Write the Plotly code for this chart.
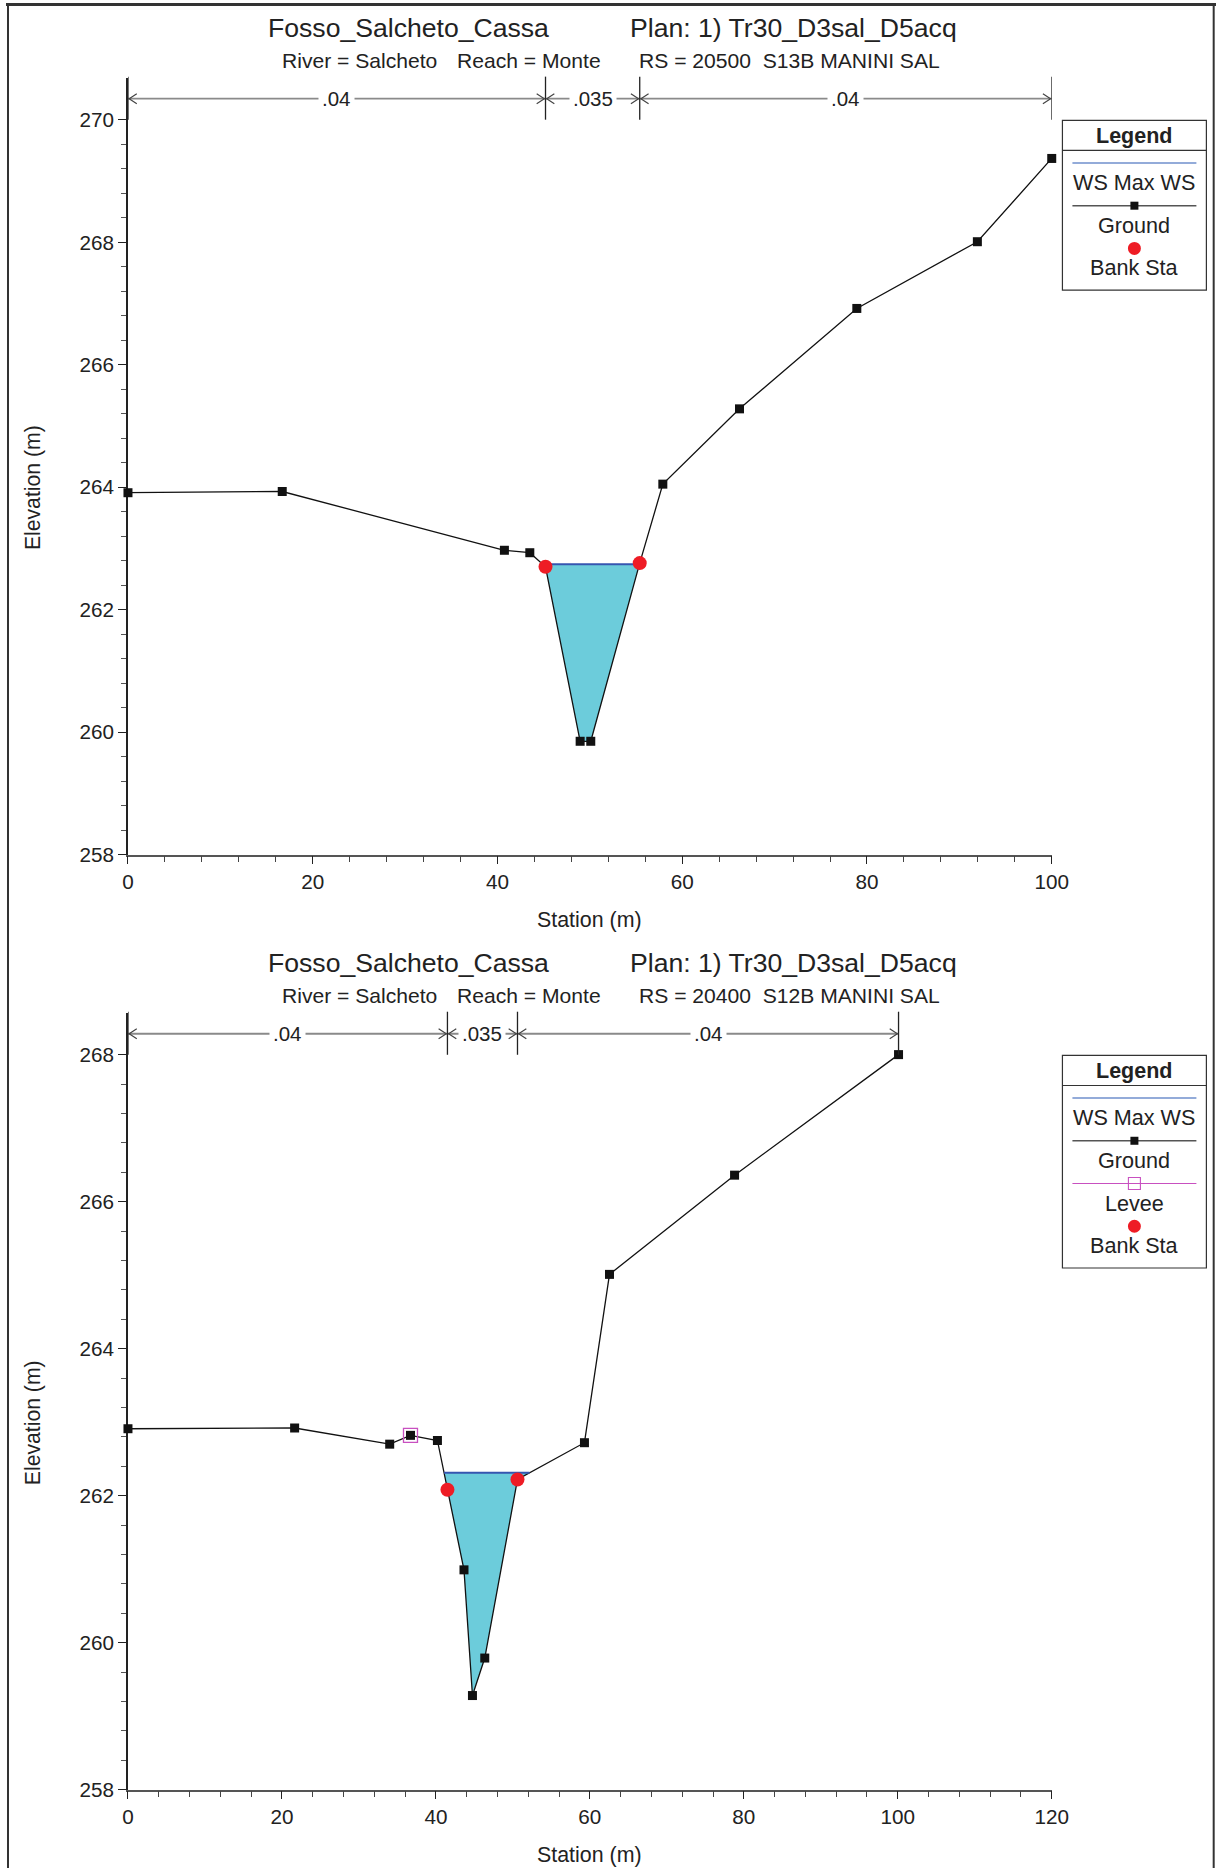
import numpy as np
import plotly.graph_objects as go

# Target positions below are given in reference-picture pixels (1216x1868);
# the page photo maps page px -> picture px approximately as  x' = AX + BX x,  y' = AY + BY y
AX, BX = 5.0, 0.9816
AY, BY = 0.45, 0.993
FW, FH = 1233, 1880
FONT = "Liberation Sans, Arial, Helvetica, sans-serif"

# ---------------- data ----------------
title_project = "Fosso_Salcheto_Cassa"
title_plan_label = "Plan:"
title_plan = "1) Tr30_D3sal_D5acq"
sub_river = "River = Salcheto"
sub_reach = "Reach = Monte"

# Section 1 : RS 20500
top_rs = "RS = 20500  S13B MANINI SAL"
top_station = [0.0, 16.7, 40.75, 43.5, 45.2, 48.95, 50.1, 55.4, 57.9, 66.2, 78.9, 91.95, 100.0]
top_elev = [263.91, 263.93, 262.97, 262.93, 262.70, 259.85, 259.85, 262.76, 264.05, 265.28, 266.92, 268.01, 269.37]
top_bank_station = [45.2, 55.4]
top_bank_elev = [262.70, 262.76]
top_levee_station = []
top_levee_elev = []
top_ws = 262.74
top_n_values = [".04", ".035", ".04"]

# Section 2 : RS 20400
bot_rs = "RS = 20400  S12B MANINI SAL"
bot_station = [0.0, 21.65, 34.0, 36.7, 40.2, 41.5, 43.65, 44.75, 46.35, 50.6, 59.3, 62.55, 78.8, 100.1]
bot_elev = [262.91, 262.92, 262.70, 262.82, 262.75, 262.08, 260.99, 259.28, 259.79, 262.22, 262.72, 265.01, 266.36, 268.0]
bot_bank_station = [41.5, 50.6]
bot_bank_elev = [262.08, 262.22]
bot_levee_station = [36.7]
bot_levee_elev = [262.82]
bot_ws = 262.31
bot_n_values = [".04", ".035", ".04"]

# ---------------- styles ----------------
WATER_FILL = "rgb(108,204,219)"
WS_COLOR = "#3656b0"
WS_LEG_COLOR = "#6f8fcc"
BANK_COLOR = "#ee1c25"
LEVEE_COLOR = "#c850c0"
GROUND_COLOR = "#111111"


def fx(t):
    return (t - AX) / BX


def fy(t):
    return (t - AY) / BY


def px(t):
    return fx(t) / FW


def py(t):
    return 1 - fy(t) / FH


def water_polygon(st, el, ws):
    st = np.asarray(st, float)
    el = np.asarray(el, float)
    i = int(np.argmin(el))
    l = i
    while l > 0 and el[l - 1] < ws:
        l -= 1
    x0 = st[l - 1] + (ws - el[l - 1]) * (st[l] - st[l - 1]) / (el[l] - el[l - 1])
    r = i
    while r < len(el) - 1 and el[r + 1] < ws:
        r += 1
    x1 = st[r] + (ws - el[r]) * (st[r + 1] - st[r]) / (el[r + 1] - el[r])
    xs = [x0] + list(st[l:r + 1]) + [x1, x0]
    ys = [ws] + list(el[l:r + 1]) + [ws, ws]
    return xs, ys, x0, x1


X_LEFT, X_RIGHT = 127, 1051
panels = [
    dict(key="", off=0, rs=top_rs, station=top_station, elev=top_elev,
         bank_st=top_bank_station, bank_el=top_bank_elev,
         levee_st=top_levee_station, levee_el=top_levee_elev,
         ws=top_ws, n_vals=top_n_values, xmax=100, ymax=270.69, ymaj=270),
    dict(key="2", off=934, rs=bot_rs, station=bot_station, elev=bot_elev,
         bank_st=bot_bank_station, bank_el=bot_bank_elev,
         levee_st=bot_levee_station, levee_el=bot_levee_elev,
         ws=bot_ws, n_vals=bot_n_values, xmax=120, ymax=268.57, ymaj=268),
]

fig = go.Figure()
shapes = []
annotations = []
layout_axes = {}

for p in panels:
    k = p["key"]
    off = p["off"]
    xr, yr = "x" + k, "y" + k

    wx, wy, wl, wr = water_polygon(p["station"], p["elev"], p["ws"])
    fig.add_trace(go.Scatter(x=wx, y=wy, xaxis=xr, yaxis=yr, mode="lines",
                             fill="toself", fillcolor=WATER_FILL,
                             line=dict(width=0), hoverinfo="skip", showlegend=False))
    fig.add_trace(go.Scatter(x=p["station"], y=p["elev"], xaxis=xr, yaxis=yr,
                             mode="lines+markers", name="Ground", cliponaxis=False,
                             line=dict(color=GROUND_COLOR, width=1.3),
                             marker=dict(symbol="square", size=9, color=GROUND_COLOR),
                             showlegend=False))
    fig.add_trace(go.Scatter(x=[wl, wr], y=[p["ws"], p["ws"]], xaxis=xr, yaxis=yr,
                             mode="lines", name="WS Max WS",
                             line=dict(color=WS_COLOR, width=2), showlegend=False))
    if p["levee_st"]:
        fig.add_trace(go.Scatter(x=p["levee_st"], y=p["levee_el"], xaxis=xr, yaxis=yr,
                                 mode="markers", name="Levee",
                                 marker=dict(symbol="square-open", size=14,
                                             color=LEVEE_COLOR, line=dict(width=1.3)),
                                 showlegend=False))
    fig.add_trace(go.Scatter(x=p["bank_st"], y=p["bank_el"], xaxis=xr, yaxis=yr,
                             mode="markers", name="Bank Sta", cliponaxis=False,
                             marker=dict(symbol="circle", size=14, color=BANK_COLOR),
                             showlegend=False))

    # axes
    minor_y = [round(v, 2) for v in np.arange(258, p["ymaj"] + 1e-6, 0.4)
               if abs(round(v, 2) / 2 - round(round(v, 2) / 2)) > 1e-6]
    layout_axes["xaxis" + k] = dict(
        domain=[px(X_LEFT), px(X_RIGHT)], range=[0, p["xmax"]], anchor=yr,
        tickmode="linear", tick0=0, dtick=20, ticks="outside", ticklen=8,
        tickwidth=1.2, tickcolor="#222", showline=True, linecolor="#555",
        linewidth=1.5, showgrid=False, zeroline=False, layer="below traces",
        tickfont=dict(size=20.7, color="#222", family=FONT),
        minor=dict(tickmode="linear", tick0=0, dtick=4, ticks="outside",
                   ticklen=6, tickcolor="#444", tickwidth=1, showgrid=False))
    layout_axes["yaxis" + k] = dict(
        domain=[py(854 + off), py(78 + off)], range=[258, p["ymax"]], anchor=xr,
        tickmode="array", tickvals=list(np.arange(258, p["ymaj"] + 0.01, 2)),
        ticks="outside", ticklen=8, tickwidth=1.2, tickcolor="#222",
        showline=True, linecolor="#222", linewidth=1.5, showgrid=False,
        zeroline=False, layer="below traces",
        tickfont=dict(size=20.7, color="#222", family=FONT),
        minor=dict(tickmode="array", tickvals=minor_y, ticks="outside",
                   ticklen=5, tickcolor="#555", tickwidth=1, showgrid=False))

    # titles
    for txt, xl, yc, sz in [(title_project, 265, 28.5, 26.6), (title_plan_label, 627, 28.5, 26.6),
                            (title_plan, 695, 28.5, 26.6), (sub_river, 279, 61, 21.1),
                            (sub_reach, 454, 61, 21.1), (p["rs"], 636, 61, 21.1)]:
        annotations.append(dict(text=txt, x=px(xl), y=py(yc + off), xref="paper", yref="paper",
                                xanchor="left", yanchor="middle", showarrow=False,
                                font=dict(size=sz, color="#222", family=FONT)))
    # axis titles
    annotations.append(dict(text="Station (m)", x=px((X_LEFT + X_RIGHT) / 2), y=py(919.5 + off),
                            xref="paper", yref="paper", xanchor="center", yanchor="middle",
                            showarrow=False, font=dict(size=21.4, color="#222", family=FONT)))
    annotations.append(dict(text="Elevation (m)", x=px(32), y=py(487 + off),
                            xref="paper", yref="paper", xanchor="center", yanchor="middle",
                            textangle=-90, showarrow=False,
                            font=dict(size=21.2, color="#222", family=FONT)))

    # Manning's n bars
    breaks = [p["station"][0], p["bank_st"][0], p["bank_st"][1], p["station"][-1]]
    upp = p["xmax"] / (fx(X_RIGHT) - fx(X_LEFT))  # data units per figure pixel
    ybar = py(99 + off)
    shapes.append(dict(type="line", xref=xr, yref="paper", x0=breaks[0], x1=breaks[-1],
                       y0=ybar, y1=ybar, line=dict(color="#8a8a8a", width=1.8)))
    for b in breaks:
        shapes.append(dict(type="line", xref=xr, yref="paper", x0=b, x1=b,
                           y0=py(120 + off), y1=py(77 + off), line=dict(color="#222", width=1.3)))
    dy = 5 / FH
    for i, val in enumerate(p["n_vals"]):
        a, c = breaks[i], breaks[i + 1]
        la, lc = a + 1.2 * upp, c - 1.2 * upp
        wa, wc = a + 9 * upp, c - 9 * upp
        shapes.append(dict(type="path", xref=xr, yref="paper",
                           path=f"M {wa},{ybar + dy} L {la},{ybar} L {wa},{ybar - dy}",
                           line=dict(color="#444", width=1.2)))
        shapes.append(dict(type="path", xref=xr, yref="paper",
                           path=f"M {wc},{ybar + dy} L {lc},{ybar} L {wc},{ybar - dy}",
                           line=dict(color="#444", width=1.2)))
        annotations.append(dict(text=val, x=(a + c) / 2, y=ybar, xref=xr, yref="paper",
                                xanchor="center", yanchor="middle", showarrow=False,
                                bgcolor="white", borderpad=3,
                                font=dict(size=20.5, color="#222", family=FONT)))

    # legend box
    items = [("WS Max WS", "ws"), ("Ground", "ground")]
    if p["levee_st"]:
        items.append(("Levee", "levee"))
    items.append(("Bank Sta", "bank"))
    lt = 120.7 + off
    lx0, lx1 = 1061.7, 1205.7
    cx = (lx0 + lx1) / 2
    pitch = 42.7
    lb = lt + 42.5 + pitch * len(items) - 1
    shapes.append(dict(type="rect", xref="paper", yref="paper", x0=px(lx0), x1=px(lx1),
                       y0=py(lb), y1=py(lt), line=dict(color="#333", width=1.2),
                       fillcolor="white", layer="above"))
    shapes.append(dict(type="line", xref="paper", yref="paper", x0=px(lx0), x1=px(lx1),
                       y0=py(lt + 30), y1=py(lt + 30), line=dict(color="#333", width=1.2)))
    annotations.append(dict(text="<b>Legend</b>", x=px(cx), y=py(lt + 15.5), xref="paper",
                            yref="paper", xanchor="center", yanchor="middle", showarrow=False,
                            font=dict(size=21.5, color="#222", family=FONT)))
    for j, (lab, kind) in enumerate(items):
        ysym = lt + 42.5 + pitch * j
        ytxt = ysym + 19.5
        if kind == "ws":
            shapes.append(dict(type="line", xref="paper", yref="paper", x0=px(1071.7), x1=px(1195.7),
                               y0=py(ysym), y1=py(ysym), line=dict(color=WS_LEG_COLOR, width=1.6)))
        elif kind == "ground":
            shapes.append(dict(type="line", xref="paper", yref="paper", x0=px(1071.7), x1=px(1195.7),
                               y0=py(ysym), y1=py(ysym), line=dict(color="#555", width=1.4)))
            shapes.append(dict(type="rect", xref="paper", yref="paper", x0=px(cx - 4), x1=px(cx + 4),
                               y0=py(ysym + 4), y1=py(ysym - 4), line=dict(width=0),
                               fillcolor=GROUND_COLOR))
        elif kind == "levee":
            shapes.append(dict(type="line", xref="paper", yref="paper", x0=px(1071.7), x1=px(1195.7),
                               y0=py(ysym), y1=py(ysym), line=dict(color=LEVEE_COLOR, width=1.1)))
            shapes.append(dict(type="rect", xref="paper", yref="paper", x0=px(cx - 6), x1=px(cx + 6),
                               y0=py(ysym + 6), y1=py(ysym - 6),
                               line=dict(color=LEVEE_COLOR, width=1.1)))
        elif kind == "bank":
            shapes.append(dict(type="circle", xref="paper", yref="paper", x0=px(cx - 6.5), x1=px(cx + 6.5),
                               y0=py(ysym + 6.5), y1=py(ysym - 6.5), line=dict(width=0),
                               fillcolor=BANK_COLOR))
        annotations.append(dict(text=lab, x=px(cx), y=py(ytxt), xref="paper", yref="paper",
                                xanchor="center", yanchor="middle", showarrow=False,
                                font=dict(size=21.6, color="#222", family=FONT)))

# page frame
shapes.append(dict(type="line", xref="paper", yref="paper", x0=0, x1=1, y0=py(5), y1=py(5),
                   line=dict(color="#333", width=3)))
shapes.append(dict(type="line", xref="paper", yref="paper", x0=max(px(7), 0.0008), x1=max(px(7), 0.0008),
                   y0=0, y1=py(5), line=dict(color="#333", width=2)))
shapes.append(dict(type="line", xref="paper", yref="paper", x0=px(1213), x1=px(1213), y0=0, y1=py(5),
                   line=dict(color="#333", width=2)))

fig.update_layout(
    width=FW, height=FH, margin=dict(l=0, r=0, t=0, b=0),
    paper_bgcolor="white", plot_bgcolor="white",
    font=dict(family=FONT, color="#222"),
    showlegend=False, shapes=shapes, annotations=annotations,
    **layout_axes,
)

fig.write_html("out.html", include_plotlyjs=True, full_html=True,
               config={"displayModeBar": False},
               post_script="document.body.style.margin='0';")
